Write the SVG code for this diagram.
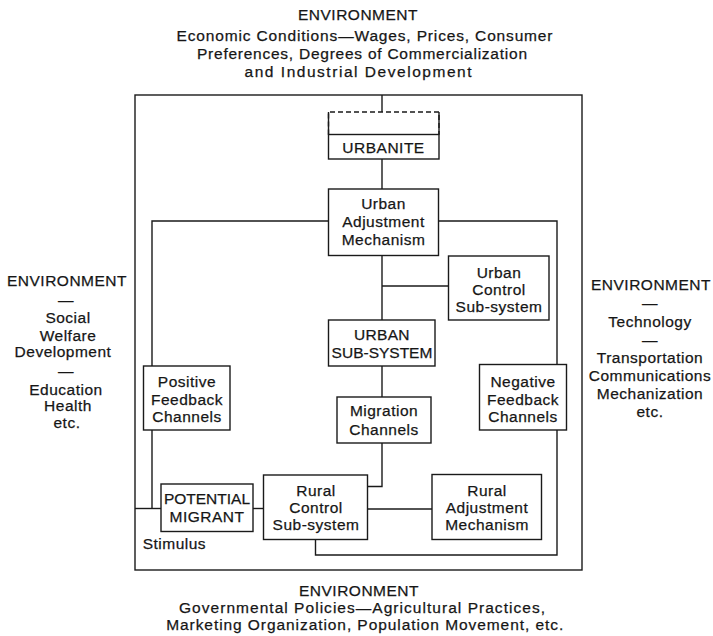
<svg xmlns="http://www.w3.org/2000/svg" width="713" height="636" viewBox="0 0 713 636">
<style>
  .t { font-family: "Liberation Sans", Arial, Helvetica, sans-serif; font-size: 15.5px; fill: #161616; stroke: #161616; stroke-width: 0.25px; letter-spacing: 0.5px; text-anchor: middle; }
  .l { letter-spacing: 0; }
  .st { text-anchor: start; }
  .box { fill: #ffffff; stroke: #1a1a1a; stroke-width: 1.4; }
  .ln { fill: none; stroke: #1a1a1a; stroke-width: 1.4; }
  .dash { fill: none; stroke: #1a1a1a; stroke-width: 1.4; stroke-dasharray: 5 3; }
</style>
<rect width="713" height="636" fill="#ffffff"/>

<g id="env-top">
  <text class="t" x="358" y="20">ENVIRONMENT</text>
  <text class="t l" x="364.5" y="41" textLength="376" lengthAdjust="spacing">Economic Conditions—Wages, Prices, Consumer</text>
  <text class="t l" x="362" y="59" textLength="330" lengthAdjust="spacing">Preferences, Degrees of Commercialization</text>
  <text class="t l" x="358" y="77" textLength="227" lengthAdjust="spacing">and Industrial Development</text>
</g>
<g id="env-left">
  <text class="t" x="67" y="286">ENVIRONMENT</text>
  <text class="t" x="66" y="304.5">—</text>
  <text class="t" x="68" y="322.7">Social</text>
  <text class="t" x="68" y="340.7">Welfare</text>
  <text class="t" x="63" y="357">Development</text>
  <text class="t" x="66" y="376">—</text>
  <text class="t" x="66" y="395">Education</text>
  <text class="t" x="68" y="411">Health</text>
  <text class="t" x="67" y="428">etc.</text>
</g>
<g id="env-right">
  <text class="t" x="651" y="290">ENVIRONMENT</text>
  <text class="t" x="650" y="308">—</text>
  <text class="t" x="650" y="327.3">Technology</text>
  <text class="t" x="650" y="345.3">—</text>
  <text class="t" x="650" y="362.7">Transportation</text>
  <text class="t" x="650" y="380.7">Communications</text>
  <text class="t" x="650" y="399">Mechanization</text>
  <text class="t" x="650" y="417">etc.</text>
</g>
<g id="env-bottom">
  <text class="t" x="359" y="596">ENVIRONMENT</text>
  <text class="t l" x="362" y="613" textLength="366" lengthAdjust="spacing">Governmental Policies—Agricultural Practices,</text>
  <text class="t l" x="364.7" y="630" textLength="397" lengthAdjust="spacing">Marketing Organization, Population Movement, etc.</text>
</g>

<g id="connectors">
  <rect class="ln" x="135" y="95" width="447" height="475"/>
  <path class="ln" d="M382,95 V112"/>
  <path class="ln" d="M382,159 V189"/>
  <path class="ln" d="M328.5,221 H152 V366"/>
  <path class="ln" d="M438.5,221 H557 V364.5"/>
  <path class="ln" d="M382,255.5 V320"/>
  <path class="ln" d="M382,286 H448.5"/>
  <path class="ln" d="M382,366 V397"/>
  <path class="ln" d="M382,443 V486.5 H367.5"/>
  <path class="ln" d="M152,430 V508.5"/>
  <path class="ln" d="M135,508.5 H161"/>
  <path class="ln" d="M253,508.5 H263.5"/>
  <path class="ln" d="M367.5,509 H432"/>
  <path class="ln" d="M315.5,539.5 V555 H557 V430"/>
</g>

<g id="urbanite">
  <path class="dash" d="M328.5,134.5 V112 H439 V134.5"/>
  <path class="ln" d="M328.5,112 V134.5 M439,112 V134.5"/>
  <rect class="box" x="328.5" y="134.5" width="110.5" height="24.5"/>
  <text class="t" x="383.5" y="153">URBANITE</text>
</g>
<g id="urban-adjustment">
  <rect class="box" x="328.5" y="189" width="110" height="66.5"/>
  <text class="t" x="383.5" y="209">Urban</text>
  <text class="t" x="383.5" y="227">Adjustment</text>
  <text class="t" x="383.5" y="245">Mechanism</text>
</g>
<g id="urban-control">
  <rect class="box" x="448.5" y="256" width="100.5" height="64"/>
  <text class="t" x="499" y="278">Urban</text>
  <text class="t" x="499" y="295">Control</text>
  <text class="t" x="499" y="312">Sub-system</text>
</g>
<g id="urban-subsystem">
  <rect class="box" x="328.5" y="320" width="106.5" height="46"/>
  <text class="t" x="382" y="339.5" style="letter-spacing:0.3px">URBAN</text>
  <text class="t" x="382" y="358" style="letter-spacing:0px">SUB-SYSTEM</text>
</g>
<g id="positive-feedback">
  <rect class="box" x="143.5" y="366" width="86.5" height="64"/>
  <text class="t" x="187" y="387">Positive</text>
  <text class="t" x="187" y="404.5">Feedback</text>
  <text class="t" x="187" y="422">Channels</text>
</g>
<g id="negative-feedback">
  <rect class="box" x="479.5" y="364.5" width="87" height="65.5"/>
  <text class="t" x="523" y="387">Negative</text>
  <text class="t" x="523" y="404.5">Feedback</text>
  <text class="t" x="523" y="422">Channels</text>
</g>
<g id="migration-channels">
  <rect class="box" x="337" y="397" width="94" height="46"/>
  <text class="t" x="384" y="416">Migration</text>
  <text class="t" x="384" y="434.5">Channels</text>
</g>
<g id="potential-migrant">
  <rect class="box" x="161" y="484" width="92" height="47.5"/>
  <text class="t" x="207" y="503.5" style="letter-spacing:0px">POTENTIAL</text>
  <text class="t" x="207" y="521.5">MIGRANT</text>
</g>
<g id="rural-control">
  <rect class="box" x="263.5" y="475" width="104" height="64.5"/>
  <text class="t" x="316" y="496">Rural</text>
  <text class="t" x="316" y="513">Control</text>
  <text class="t" x="316" y="530">Sub-system</text>
</g>
<g id="rural-adjustment">
  <rect class="box" x="432" y="474.5" width="109.5" height="65"/>
  <text class="t" x="487" y="496">Rural</text>
  <text class="t" x="487" y="513">Adjustment</text>
  <text class="t" x="487" y="530">Mechanism</text>
</g>
<g id="stimulus">
  <text class="t st" x="142.7" y="549">Stimulus</text>
</g>
</svg>
